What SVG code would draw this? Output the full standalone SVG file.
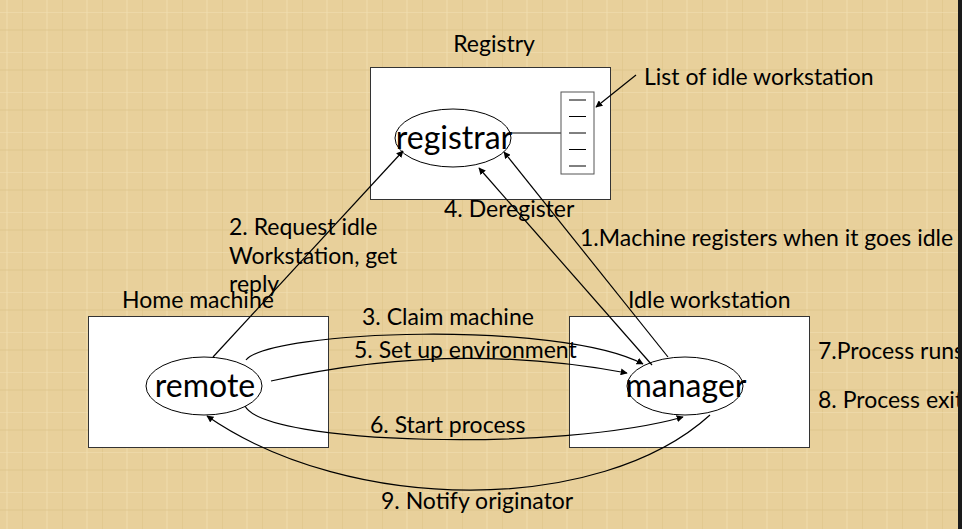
<svg xmlns="http://www.w3.org/2000/svg" width="962" height="529" viewBox="0 0 962 529">
<style>
.t{font-family:Lato,"Open Sans","Liberation Sans",sans-serif;font-size:23px;fill:#000}
.n{font-family:Lato,"Open Sans","Liberation Sans",sans-serif;font-size:32px;fill:#000;text-anchor:middle}
.box{fill:#fff;stroke:#333;stroke-width:1}
.el{fill:none;stroke:#000;stroke-width:1}
.ca{fill:none;stroke:#000;stroke-width:1.2;marker-end:url(#ah)}
</style>
<defs>
<marker id="ah" viewBox="0 0 10 10" refX="9" refY="5" markerWidth="7" markerHeight="7" markerUnits="userSpaceOnUse" orient="auto">
<path d="M0,0 L10,5 L0,10 z" fill="#000"/>
</marker>
<pattern id="tex" width="40" height="40" patternUnits="userSpaceOnUse">
<rect width="40" height="40" fill="#E8D09B"/>
<rect x="6" y="0" width="2" height="40" fill="#EFDAAA" opacity="0.6"/>
<rect x="22" y="0" width="1" height="40" fill="#DCC286" opacity="0.5"/>
<rect x="0" y="12" width="40" height="1" fill="#F0DDB0" opacity="0.6"/>
<rect x="0" y="29" width="40" height="2" fill="#DDC48A" opacity="0.4"/>
</pattern>
</defs>
<rect width="962" height="529" fill="url(#tex)"/>

<g id="registry">
<text class="t" x="494" y="52" text-anchor="middle">Registry</text>
<rect class="box" x="370.5" y="67.5" width="240" height="132"/>
<line x1="511" y1="133" x2="561" y2="133" stroke="#000" stroke-width="1"/>
</g>
<g id="registrar">
<ellipse class="el" cx="453" cy="138" rx="58" ry="29"/>
<text class="n" x="454" y="149">registrar</text>
</g>
<g id="idle-list">
<rect x="561" y="92" width="33" height="82" fill="#fff" stroke="#555" stroke-width="1"/>
<g stroke="#000" stroke-width="1">
<line x1="569" y1="100" x2="586" y2="100"/>
<line x1="569" y1="116.5" x2="586" y2="116.5"/>
<line x1="569" y1="133" x2="586" y2="133"/>
<line x1="569" y1="149.5" x2="586" y2="149.5"/>
<line x1="569" y1="166" x2="586" y2="166"/>
</g>
</g>
<g id="list-label">
<text class="t" x="644" y="85">List of idle workstation</text>
</g>

<g id="home-machine">
<text class="t" x="122" y="308">Home machine</text>
<rect class="box" x="88.5" y="316.5" width="240" height="131"/>
</g>
<g id="remote">
<ellipse class="el" cx="204" cy="386" rx="58" ry="29"/>
<text class="n" x="205" y="397">remote</text>
</g>

<g id="idle-workstation">
<text class="t" x="628" y="308">Idle workstation</text>
<rect class="box" x="569.5" y="316.5" width="240" height="131"/>
</g>
<g id="manager">
<ellipse class="el" cx="685" cy="386" rx="58" ry="29"/>
<text class="n" x="686" y="397">manager</text>
</g>

<g id="connectors">
<line class="ca" x1="636" y1="75" x2="596" y2="107"/>
<line class="ca" x1="213" y1="357" x2="403" y2="151"/>
<line class="ca" x1="652" y1="365" x2="479" y2="168"/>
<line class="ca" x1="668" y1="357" x2="504" y2="152"/>
<path class="ca" d="M246,360 C270,330 560,320 643,364"/>
<path class="ca" d="M271,381 Q450,340 627,373"/>
<path class="ca" d="M245,406 C265,445 560,452 683,417"/>
<path class="ca" d="M710,415 C600,515 350,515 207,416"/>
</g>

<g id="labels">
<text class="t" x="229" y="235">2. Request idle</text>
<text class="t" x="229" y="264">Workstation, get</text>
<text class="t" x="229" y="292">reply</text>
<text class="t" x="444" y="217">4. Deregister</text>
<text class="t" x="580" y="246">1.Machine registers when it goes idle</text>
<text class="t" x="362" y="325">3. Claim machine</text>
<text class="t" x="354" y="358">5. Set up environment</text>
<text class="t" x="370" y="433">6. Start process</text>
<text class="t" x="381" y="509">9. Notify originator</text>
<text class="t" x="818" y="359">7.Process runs</text>
<text class="t" x="818" y="408">8. Process exit</text>
</g>
<rect x="958" y="0" width="4" height="529" fill="#1a1a1a"/>
</svg>
